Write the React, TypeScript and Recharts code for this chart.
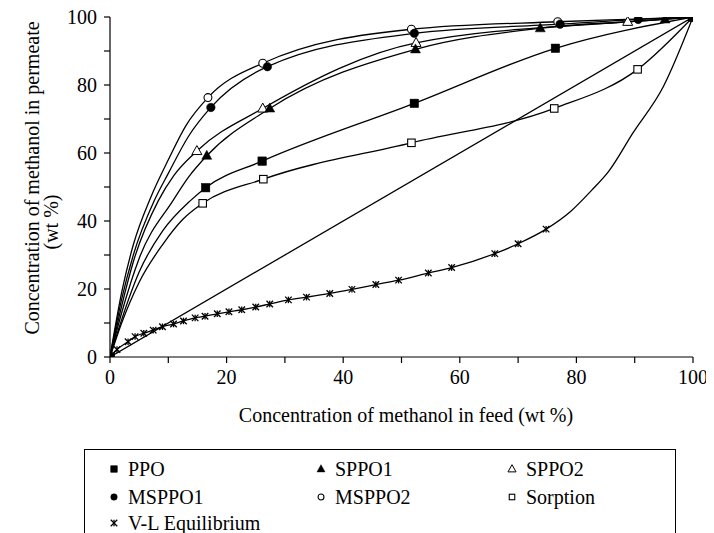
import React from 'react';
import { ComposedChart, Line, XAxis, YAxis, Label } from 'recharts';

const FONT = '"Liberation Serif", "Times New Roman", Times, serif';

// Axis ticks
const axisTicks = [0, 10, 20, 30, 40, 50, 60, 70, 80, 90, 100];
const xTitle = 'Concentration of methanol in feed (wt %)';
const yTitle1 = 'Concentration of methanol in permeate';
const yTitle2 = '(wt %)';

// PPO (filled square)
const ppoFeed = [0, 16.4, 26.1, 52.2, 76.4, 100];
const ppoPerm = [0, 49.8, 57.6, 74.6, 90.8, 100];
const ppoCurveFeed = [0, 2, 5, 9, 13.8, 16.4, 26.1, 52.2, 76.4, 100];
const ppoCurvePerm = [0, 11, 25, 37, 46, 49.8, 57.6, 74.6, 90.8, 100];

// SPPO1 (filled triangle)
const sppo1Feed = [0, 16.6, 27.4, 52.4, 73.8, 95.2, 100];
const sppo1Perm = [0, 59.2, 73.1, 90.5, 96.7, 99.3, 100];
const sppo1CurveFeed = [0, 2, 5, 10.8, 13.5, 16.6, 27.4, 52.4, 73.8, 95.2, 100];
const sppo1CurvePerm = [0, 13, 29, 46, 53, 59.2, 73.1, 90.5, 96.7, 99.3, 100];

// SPPO2 (open triangle)
const sppo2Feed = [0, 14.9, 26.2, 52.5, 88.8, 100];
const sppo2Perm = [0, 60.6, 73.1, 92.4, 98.6, 100];
const sppo2CurveFeed = [0, 2, 4, 8.3, 11, 14.9, 26.2, 52.5, 88.8, 100];
const sppo2CurvePerm = [0, 15, 28, 46, 53.5, 60.6, 73.1, 92.4, 98.6, 100];

// MSPPO1 (filled circle)
const msppo1Feed = [0, 17.3, 27.0, 52.2, 77.2, 90.6, 100];
const msppo1Perm = [0, 73.4, 85.4, 95.2, 97.9, 99.3, 100];
const msppo1CurveFeed = [0, 2, 4, 7.6, 10, 13.5, 17.3, 27.0, 52.2, 77.2, 90.6, 100];
const msppo1CurvePerm = [0, 17, 30, 46, 54, 65, 73.4, 85.4, 95.2, 97.9, 99.3, 100];

// MSPPO2 (open circle)
const msppo2Feed = [0, 16.8, 26.2, 51.7, 76.8, 100];
const msppo2Perm = [0, 76.3, 86.4, 96.4, 98.6, 100];
const msppo2CurveFeed = [0, 2, 4, 7, 10, 13, 16.8, 26.2, 51.7, 76.8, 90, 100];
const msppo2CurvePerm = [0, 19, 33, 47, 58, 68, 76.3, 86.4, 96.4, 98.6, 99.4, 100];

// Sorption (open square)
const sorpFeed = [0, 15.9, 26.3, 51.7, 76.2, 90.5, 100];
const sorpPerm = [0, 45.2, 52.3, 63.0, 73.1, 84.6, 100];
const sorpCurveFeed = [0, 2, 5, 9, 12.5, 15.9, 26.3, 51.7, 76.2, 90.5, 100];
const sorpCurvePerm = [0, 10, 22, 33, 40.5, 45.2, 52.3, 63.0, 73.1, 84.6, 100];

// V-L Equilibrium (star markers), measured points
const vlFeed = [0, 1.2, 3.1, 4.3, 5.8, 7.4, 9.0, 10.9, 12.6, 14.6, 16.3, 18.4, 20.4, 22.6, 25.0, 27.4, 30.6, 33.7, 37.7, 41.5, 45.6, 49.5, 54.6, 58.6, 66.0, 70.0, 74.8];
const vlPerm = [0, 2.2, 4.5, 6.0, 7.0, 7.9, 8.9, 9.7, 10.6, 11.5, 12.0, 12.7, 13.3, 13.9, 14.7, 15.6, 16.8, 17.6, 18.7, 19.9, 21.3, 22.6, 24.7, 26.3, 30.4, 33.3, 37.6];
// V-L continuation without markers
const vlTailFeed = [79.0, 82.6, 85.5, 89.7, 94.9, 100];
const vlTailPerm = [42.8, 49.0, 54.5, 65.9, 79.5, 100];

// Diagonal reference line
const diagFeed = [0, 100];
const diagPerm = [0, 100];

const toPts = (xs: number[], ys: number[]) => xs.map((x, i) => ({ x, y: ys[i] }));

type Shape = 'fsquare' | 'osquare' | 'ftri' | 'otri' | 'fcircle' | 'ocircle' | 'star';

const Marker = ({ shape, cx, cy, s }: { shape: Shape; cx: number; cy: number; s: number }) => {
  const h = s / 2;
  switch (shape) {
    case 'fsquare':
      return <rect x={cx - h} y={cy - h} width={s} height={s} fill="#000" stroke="#000" strokeWidth={0.5} />;
    case 'osquare':
      return <rect x={cx - h + 0.5} y={cy - h + 0.5} width={s - 1} height={s - 1} fill="#fff" stroke="#000" strokeWidth={1.1} />;
    case 'ftri': {
      const th = s * 0.9;
      return <polygon points={`${cx},${cy - th * 0.6} ${cx - h},${cy + th * 0.4} ${cx + h},${cy + th * 0.4}`} fill="#000" stroke="#000" strokeWidth={0.5} />;
    }
    case 'otri': {
      const th = s * 0.9;
      return <polygon points={`${cx},${cy - th * 0.6} ${cx - h},${cy + th * 0.4} ${cx + h},${cy + th * 0.4}`} fill="#fff" stroke="#000" strokeWidth={1} />;
    }
    case 'fcircle':
      return <circle cx={cx} cy={cy} r={h} fill="#000" stroke="#000" strokeWidth={0.5} />;
    case 'ocircle':
      return <circle cx={cx} cy={cy} r={h - 0.3} fill="#fff" stroke="#000" strokeWidth={1.1} />;
    case 'star':
      return (
        <g stroke="#000" strokeWidth={1.3}>
          <line x1={cx - h} y1={cy - h} x2={cx + h} y2={cy + h} />
          <line x1={cx - h} y1={cy + h} x2={cx + h} y2={cy - h} />
          <line x1={cx} y1={cy - h} x2={cx} y2={cy + h} />
        </g>
      );
    default:
      return null;
  }
};

const makeDot = (shape: Shape, s: number) => (props: any) => {
  const { cx, cy, index } = props;
  if (cx == null || cy == null || isNaN(cx) || isNaN(cy)) return <g key={`${shape}-${index}`} />;
  return (
    <g key={`${shape}-${index}`}>
      <Marker shape={shape} cx={cx} cy={cy} s={s} />
    </g>
  );
};

const curves = [
  { key: 'diag', data: toPts(diagFeed, diagPerm) },
  { key: 'sorp', data: toPts(sorpCurveFeed, sorpCurvePerm) },
  { key: 'ppo', data: toPts(ppoCurveFeed, ppoCurvePerm) },
  { key: 'sppo1', data: toPts(sppo1CurveFeed, sppo1CurvePerm) },
  { key: 'sppo2', data: toPts(sppo2CurveFeed, sppo2CurvePerm) },
  { key: 'msppo1', data: toPts(msppo1CurveFeed, msppo1CurvePerm) },
  { key: 'msppo2', data: toPts(msppo2CurveFeed, msppo2CurvePerm) },
  { key: 'vl', data: toPts([...vlFeed, ...vlTailFeed], [...vlPerm, ...vlTailPerm]) },
];

const markerSets: { key: string; shape: Shape; size: number; data: { x: number; y: number }[] }[] = [
  { key: 'm-vl', shape: 'star', size: 6.5, data: toPts(vlFeed, vlPerm) },
  { key: 'm-sorp', shape: 'osquare', size: 8.5, data: toPts(sorpFeed, sorpPerm) },
  { key: 'm-ppo', shape: 'fsquare', size: 8.5, data: toPts(ppoFeed, ppoPerm) },
  { key: 'm-sppo2', shape: 'otri', size: 10, data: toPts(sppo2Feed, sppo2Perm) },
  { key: 'm-sppo1', shape: 'ftri', size: 10, data: toPts(sppo1Feed, sppo1Perm) },
  { key: 'm-msppo2', shape: 'ocircle', size: 8.5, data: toPts(msppo2Feed, msppo2Perm) },
  { key: 'm-msppo1', shape: 'fcircle', size: 8.5, data: toPts(msppo1Feed, msppo1Perm) },
];

const legendItems: { label: string; shape: Shape; col: number; row: number }[] = [
  { label: 'PPO', shape: 'fsquare', col: 0, row: 0 },
  { label: 'SPPO1', shape: 'ftri', col: 1, row: 0 },
  { label: 'SPPO2', shape: 'otri', col: 2, row: 0 },
  { label: 'MSPPO1', shape: 'fcircle', col: 0, row: 1 },
  { label: 'MSPPO2', shape: 'ocircle', col: 1, row: 1 },
  { label: 'Sorption', shape: 'osquare', col: 2, row: 1 },
  { label: 'V-L Equilibrium', shape: 'star', col: 0, row: 2 },
];
const legendColMarkerX = [29, 236, 427];
const legendRowY = [19, 47, 73];

const tickFmt = (v: number) => (v % 20 === 0 ? String(v) : '');

const XTick = (props: any) => {
  const { x, y, payload } = props;
  return (
    <text x={x} y={y} dy="0.71em" textAnchor="middle" fontSize={20} fontFamily={FONT} fill="#000">
      {tickFmt(payload.value)}
    </text>
  );
};

const YTick = (props: any) => {
  const { x, y, payload } = props;
  return (
    <text x={x} y={y} dy="0.35em" textAnchor="end" fontSize={20} fontFamily={FONT} fill="#000">
      {tickFmt(payload.value)}
    </text>
  );
};

export default function App() {
  return (
    <div style={{ position: 'relative', width: 714, height: 533, overflow: 'hidden', background: '#fff', margin: '-8px 0 0 -8px' }}>
      <ComposedChart width={714} height={533} margin={{ top: 17, right: 21, bottom: 146, left: 0 }} style={{ fontFamily: FONT }}>
        <XAxis
          type="number"
          dataKey="x"
          domain={[0, 100]}
          ticks={axisTicks}
          tick={<XTick />}
          tickSize={6}
          tickMargin={7}
          height={30}
          axisLine={{ stroke: '#000', strokeWidth: 1.2 }}
          tickLine={{ stroke: '#000', strokeWidth: 1.2 }}
          allowDataOverflow
          interval={0}
        >
          <Label
            content={() => (
              <text x={406} y={415} textAnchor="middle" dominantBaseline="central" fontSize={20} fontFamily={FONT} fill="#000">
                {xTitle}
              </text>
            )}
          />
        </XAxis>
        <YAxis
          type="number"
          dataKey="y"
          domain={[0, 100]}
          ticks={axisTicks}
          tick={<YTick />}
          tickSize={6}
          tickMargin={7}
          width={110}
          axisLine={{ stroke: '#000', strokeWidth: 1.2 }}
          tickLine={{ stroke: '#000', strokeWidth: 1.2 }}
          allowDataOverflow
          interval={0}
        >
          <Label
            content={() => (
              <g>
                <text x={32} y={178} transform="rotate(-90, 32, 178)" textAnchor="middle" dominantBaseline="central" fontSize={20} fontFamily={FONT} fill="#000">
                  {yTitle1}
                </text>
                <text x={51} y={222} transform="rotate(-90, 51, 222)" textAnchor="middle" dominantBaseline="central" fontSize={20} fontFamily={FONT} fill="#000">
                  {yTitle2}
                </text>
              </g>
            )}
          />
        </YAxis>
        {curves.map((c) => (
          <Line
            key={c.key}
            data={c.data}
            dataKey="y"
            type={c.key === 'diag' ? 'linear' : 'monotone'}
            stroke="#000"
            strokeWidth={1.3}
            dot={false}
            activeDot={false}
            isAnimationActive={false}
            legendType="none"
          />
        ))}
        {markerSets.map((m) => (
          <Line
            key={m.key}
            data={m.data}
            dataKey="y"
            type="linear"
            stroke="none"
            strokeWidth={0}
            dot={makeDot(m.shape, m.size)}
            activeDot={false}
            isAnimationActive={false}
            legendType="none"
          />
        ))}
      </ComposedChart>
      <div
        style={{
          position: 'absolute',
          left: 84,
          top: 449,
          width: 592,
          height: 110,
          border: '1px solid #000',
          boxSizing: 'border-box',
          background: '#fff',
          fontFamily: FONT,
          fontSize: 20,
          color: '#000',
        }}
      >
        {legendItems.map((it) => {
          const mx = legendColMarkerX[it.col];
          const my = legendRowY[it.row];
          return (
            <div key={it.label}>
              <svg width={12} height={12} style={{ position: 'absolute', left: mx - 6, top: my - 6 }}>
                <Marker shape={it.shape} cx={6} cy={6} s={it.shape === 'ftri' || it.shape === 'otri' ? 8 : 6.5} />
              </svg>
              <span style={{ position: 'absolute', left: mx + 14, top: my - 12, lineHeight: '24px', whiteSpace: 'nowrap' }}>
                {it.label}
              </span>
            </div>
          );
        })}
      </div>
    </div>
  );
}
